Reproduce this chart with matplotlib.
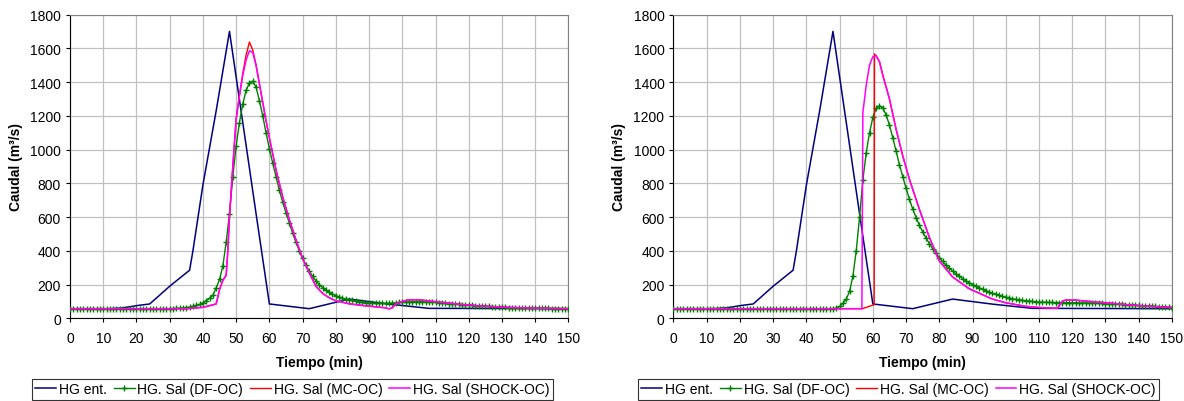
import numpy as np
import matplotlib
matplotlib.use('Agg')
import matplotlib.pyplot as plt

plt.rcParams['font.family'] = ['Liberation Sans', 'DejaVu Sans']

# ---- data ----
# inflow hydrograph (same in both panels)
t_ent = [0, 12, 16, 20, 24, 30, 36, 37, 40, 44, 48, 52, 56, 60, 72, 84, 96, 108, 150]
q_ent = [57, 57, 62, 75, 85, 190, 285, 400, 790, 1230, 1700, 1160, 620, 85, 57, 114, 84, 59, 57]

# DF-OC outflow, one value per minute 0..150
t_df = list(range(151))
q_df_a = ([57] * 31 +
          [58, 59, 60, 62, 64, 67, 71, 76, 83, 92,
           104, 119, 136, 180, 230, 310, 450, 620, 840, 1020,
           1160, 1270, 1350, 1395, 1405, 1370, 1290, 1200, 1100, 1005,
           920, 840, 760, 690, 625, 565, 505, 450, 400, 355,
           315, 280, 250, 222, 200, 182, 167, 154, 143, 134,
           126, 119, 114, 110, 106, 102, 98, 95, 92, 90,
           89, 88, 88, 88, 88, 89, 90, 92, 94, 95,
           96, 97, 98, 98, 98, 98, 97, 96, 95, 94,
           93, 91, 89, 87, 85, 84, 82, 81, 79, 78,
           76, 75, 73, 72, 71, 70, 69, 68, 67, 66,
           65, 64, 63, 63, 62, 62, 61, 61, 60, 60,
           60, 59, 59, 59, 58, 58, 58, 58, 57, 57])
q_df_b = ([57] * 48 +
          [58, 60, 70, 88, 114, 160, 250, 400, 600, 820,
           980, 1100, 1190, 1245, 1260, 1245, 1205, 1145, 1070, 990,
           910, 840, 770, 706, 648, 597, 552, 512, 476, 443,
           413, 385, 360, 337, 316, 297, 280, 264, 250, 235,
           222, 211, 200, 190, 181, 172, 164, 156, 148, 142,
           136, 130, 124, 120, 116, 112, 109, 106, 104, 102,
           100, 98, 96, 95, 95, 94, 94, 93, 93, 93,
           92, 92, 92, 92, 91, 91, 91, 90, 90, 89,
           88, 88, 87, 86, 85, 84, 83, 82, 81, 80,
           79, 78, 76, 75, 74, 73, 72, 70, 69, 68,
           67, 66, 64])

# SHOCK-OC outflow
t_sh_a = [0, 35, 40, 44, 45, 46, 47, 47.5, 48, 49, 50, 51, 52, 53, 54, 55, 56, 57, 58, 59,
          60, 62, 64, 66, 68, 70, 72, 74, 76, 78, 80, 84, 88, 92, 95, 96, 97, 98, 100,
          102, 105, 108, 114, 120, 130, 140, 150]
q_sh_a = [57, 57, 65, 85, 170, 225, 255, 400, 600, 900, 1180, 1320, 1440, 1530, 1585, 1575,
          1500, 1390, 1280, 1170, 1070, 880, 720, 585, 465, 355, 270, 190, 148, 122, 104,
          86, 76, 68, 62, 56, 62, 85, 100, 110, 110, 103, 90, 78, 66, 60, 57]
t_sh_b = [0, 56.7, 57, 58, 59, 60, 61, 62, 63, 65, 67, 69, 71, 74, 77, 80, 84, 89, 96, 100,
          106, 110, 115.5, 117, 118, 121, 126, 130, 140, 150]
q_sh_b = [57, 57, 1220, 1380, 1500, 1550, 1556, 1520, 1440, 1300, 1120, 962, 824, 646, 480,
          340, 245, 175, 114, 92, 71, 64, 59, 100, 108, 108, 98, 92, 75, 64]

# MC-OC outflow (follows SHOCK except near the peak)
t_mc_a = t_sh_a
q_mc_a = [57, 57, 65, 85, 170, 225, 255, 400, 600, 900, 1180, 1320, 1450, 1560, 1637, 1590,
          1500, 1390, 1280, 1170, 1070, 880, 720, 585, 465, 355, 270, 190, 148, 122, 104,
          86, 76, 68, 62, 56, 62, 85, 100, 110, 110, 103, 90, 78, 66, 60, 57]
t_mc_b = [0, 56.8, 60, 60.4, 60.5, 61, 62, 63, 65, 67, 69, 71, 74, 77, 80, 84, 89, 96, 100,
          106, 110, 115.5, 117, 118, 121, 126, 130, 140, 150]
q_mc_b = [57, 57, 78, 80, 1566, 1556, 1520, 1440, 1300, 1120, 962, 824, 646, 480,
          340, 245, 175, 114, 92, 71, 64, 59, 100, 108, 108, 98, 92, 75, 64]

labels = ['HG ent.', 'HG. Sal (DF-OC)', 'HG. Sal (MC-OC)', 'HG. Sal (SHOCK-OC)']
xticks = list(range(0, 151, 10))
yticks = list(range(0, 1801, 200))

fig = plt.figure(figsize=(11.84, 4.02), dpi=100)
fs = 10

panels = [
    (0.0591, q_df_a, t_mc_a, q_mc_a, t_sh_a, q_sh_a, 0.2470),
    (0.5688, q_df_b, t_mc_b, q_mc_b, t_sh_b, q_sh_b, 0.7589),
]

for left, qdf, tmc, qmc, tsh, qsh, legx in panels:
    ax = fig.add_axes([left, 0.2057, 0.421, 0.7557])
    l1, = ax.plot(t_ent, q_ent, color='#000080', lw=1.1, zorder=3)
    l2, = ax.plot(t_df, qdf, color='#008000', lw=1.0, marker='+', ms=4, mew=1.0, zorder=4)
    l3, = ax.plot(tmc, qmc, color='#ff0000', lw=1.0, zorder=5)
    l4, = ax.plot(tsh, qsh, color='#ff00ff', lw=1.1, zorder=6)
    ax.set_xlim(0, 150)
    ax.set_ylim(0, 1800)
    ax.set_xticks(xticks)
    ax.set_yticks(yticks)
    ax.tick_params(labelsize=fs, length=3, width=0.8, direction='out')
    ax.tick_params(axis='x', pad=6)
    ax.grid(True, color='#c0c0c0', lw=0.9)
    ax.set_axisbelow(True)
    for s in ['top', 'right']:
        ax.spines[s].set_color('#808080')
    for s in ['left', 'bottom']:
        ax.spines[s].set_color('black')
    ax.set_xlabel('Tiempo (min)', fontsize=fs, fontweight='bold', labelpad=7)
    ax.set_ylabel('Caudal (m³/s)', fontsize=fs, fontweight='bold', labelpad=5)
    leg = fig.legend([l1, l2, l3, l4], labels, loc='center', bbox_to_anchor=(legx, 0.029),
                     ncol=4, fontsize=fs, frameon=True, fancybox=False, edgecolor='black',
                     handlelength=1.5, handletextpad=0.2, columnspacing=0.5, borderpad=0.25,
                     borderaxespad=0)
    leg.get_frame().set_linewidth(0.8)

fig.savefig('out.png', dpi=100)
